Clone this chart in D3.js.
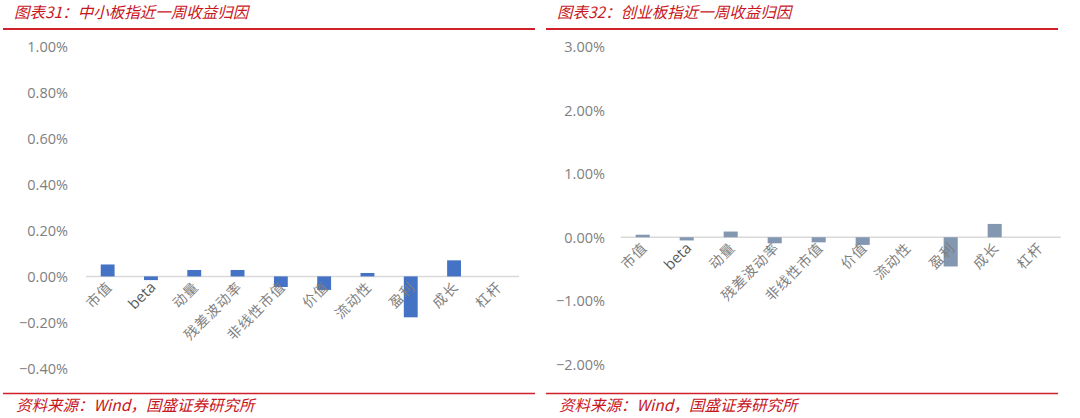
<!DOCTYPE html>
<html>
<head>
<meta charset="utf-8">
<script src="https://cdn.jsdelivr.net/npm/d3@7"></script>
<style>
  body { margin: 0; background: #fff; }
  svg { display: block; }
  .title, .source { font-family: "Noto Sans CJK SC", sans-serif; font-style: italic; fill: #c8161d; }
  .tick text { font-family: "Open Sans", "Noto Sans", sans-serif; font-size: 14.5px; fill: #7f7f7f; }
  .cat { font-family: "Noto Sans CJK SC", sans-serif; font-size: 14px; fill: #7f7f7f; letter-spacing: 1px; }
</style>
</head>
<body>
<svg id="chart" width="1080" height="418"></svg>
<script>
// categories shared by both panels
var categories = ["市值", "beta", "动量", "残差波动率", "非线性市值", "价值", "流动性", "盈利", "成长", "杠杆"];

// weekly return attribution, in %
var smeValues  = [0.052, -0.016, 0.028, 0.028, -0.046, -0.059, 0.015, -0.178, 0.07, 0];
var gemValues  = [0.04, -0.05, 0.09, -0.095, -0.08, -0.12, 0, -0.46, 0.21, 0];

var smeTicks = [-0.4, -0.2, 0, 0.2, 0.4, 0.6, 0.8, 1.0];
var gemTicks = [-2, -1, 0, 1, 2, 3];

var svg = d3.select("#chart");

// panel settings
var panels = [
  {title: "图表31：中小板指近一周收益归因", values: smeValues, ticks: smeTicks,
   domain: [-0.4, 1.0], color: "#4472c4", xr: [86, 519], yr: [368.3, 46.7],
   labelX: 68, lineL: 3, lineR: 535, titleX: 14},
  {title: "图表32：创业板指近一周收益归因", values: gemValues, ticks: gemTicks,
   domain: [-2, 3], color: "#8497b0", xr: [620.7, 1060.7], yr: [364.3, 46.7],
   labelX: 605, lineL: 546, lineR: 1058, titleX: 557}
];

panels.forEach(function(p) {
  var g = svg.append("g");

  // title and red rules
  g.append("text")
      .attr("class", "title")
      .attr("x", p.titleX)
      .attr("y", 18)
      .attr("font-size", 15.5)
      .text(p.title);
  g.append("line")
      .attr("x1", p.lineL).attr("x2", p.lineR)
      .attr("y1", 29).attr("y2", 29)
      .attr("stroke", "#d0202a").attr("stroke-width", 2);
  g.append("line")
      .attr("x1", p.lineL).attr("x2", p.lineR)
      .attr("y1", 393.5).attr("y2", 393.5)
      .attr("stroke", "#d0202a").attr("stroke-width", 1.5);
  g.append("text")
      .attr("class", "source")
      .attr("x", p.titleX + 2)
      .attr("y", 411)
      .attr("font-size", 15.5)
      .text("资料来源：Wind，国盛证券研究所");

  // scales
  var x = d3.scaleBand().domain(categories).range(p.xr).paddingInner(0.68).paddingOuter(0.34);
  var y = d3.scaleLinear().domain(p.domain).range(p.yr);

  // y axis, labels only
  g.append("g")
      .attr("transform", "translate(" + p.labelX + ",0)")
      .call(d3.axisLeft(y).tickValues(p.ticks).tickSize(0).tickPadding(0)
        .tickFormat(function(d) { return d3.format(".2f")(d) + "%"; }))
      .call(function(a) { a.select(".domain").remove(); })
      .selectAll("text")
        .attr("dy", "0.35em");

  // zero line
  g.append("line")
      .attr("x1", p.xr[0]).attr("x2", p.xr[1])
      .attr("y1", y(0)).attr("y2", y(0))
      .attr("stroke", "#d9d9d9").attr("stroke-width", 1.5);

  // bars
  g.selectAll("rect.bar")
    .data(p.values)
    .enter().append("rect")
      .attr("class", "bar")
      .attr("x", function(d, i) { return x(categories[i]); })
      .attr("width", x.bandwidth())
      .attr("y", function(d) { return y(Math.max(0, d)); })
      .attr("height", function(d) { return Math.abs(y(d) - y(0)); })
      .attr("fill", p.color);

  // rotated category labels
  g.selectAll("text.cat")
    .data(categories)
    .enter().append("text")
      .attr("class", "cat")
      .attr("text-anchor", "end")
      .attr("transform", function(d) {
        var cx = x(d) + x.bandwidth() / 2 + 2;
        return "translate(" + cx + "," + (y(0) + 8) + ") rotate(-45)";
      })
      .attr("dy", "0.35em")
      .style("font-family", function(d) { return d === "beta" ? "'Open Sans', sans-serif" : null; })
      .style("font-size", function(d) { return d === "beta" ? "15px" : null; })
      .style("letter-spacing", function(d) { return d === "beta" ? "0px" : null; })
      .style("fill", function(d) { return d === "beta" ? "#595959" : null; })
      .text(function(d) { return d; });
});
</script>
</body>
</html>
